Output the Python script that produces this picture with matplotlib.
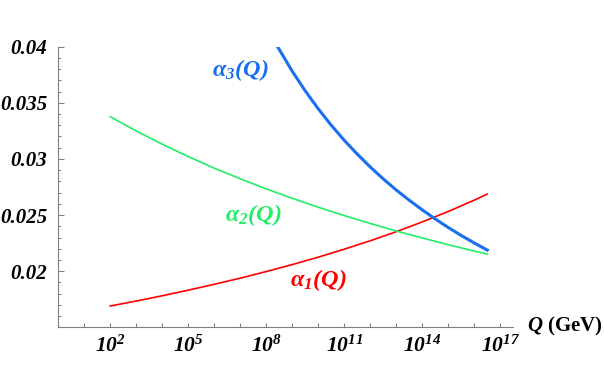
import matplotlib
matplotlib.use("Agg")
import matplotlib.pyplot as plt

# running couplings (Q in GeV)
Q_12 = [1e2, 1e3, 1e4, 1e5, 1e6, 1e7, 1e8, 1e9, 1e10, 1e11, 1e12,
        1e13, 1e14, 1e15, 1e16, 3.16e16]
alpha1 = [0.01690, 0.01734, 0.01781, 0.01831, 0.01883, 0.01938, 0.01997,
          0.02059, 0.02125, 0.02196, 0.02271, 0.02352, 0.02439, 0.02532,
          0.02633, 0.02687]
alpha2 = [0.03376, 0.03249, 0.03131, 0.03021, 0.02918, 0.02823, 0.02733,
          0.02649, 0.02570, 0.02495, 0.02425, 0.02358, 0.02296, 0.02236,
          0.02179, 0.02152]

Q_3 = [2.72e8, 1e9, 3.16e9, 1e10, 3.16e10, 1e11, 3.16e11, 1e12, 3.16e12,
       1e13, 3.16e13, 1e14, 3.16e14, 1e15, 3.16e15, 1e16, 3.16e16]
alpha3 = [0.04000, 0.03781, 0.03606, 0.03446, 0.03300, 0.03166, 0.03043,
          0.02928, 0.02822, 0.02723, 0.02632, 0.02546, 0.02465, 0.02389,
          0.02318, 0.02251, 0.02188]

x_major = [1e2, 1e5, 1e8, 1e11, 1e14, 1e17]
x_major_labels = ['$10^{2}$', '$10^{5}$', '$10^{8}$', '$10^{11}$',
                  '$10^{14}$', '$10^{17}$']
x_minor = [1e0, 1e1, 1e3, 1e4, 1e6, 1e7, 1e9, 1e10, 1e12, 1e13, 1e15, 1e16]
y_major = [0.02, 0.025, 0.03, 0.035, 0.04]
y_major_labels = ['0.02', '0.025', '0.03', '0.035', '0.04']
y_minor = [0.015, 0.016, 0.017, 0.018, 0.019, 0.021, 0.022, 0.023, 0.024,
           0.026, 0.027, 0.028, 0.029, 0.031, 0.032, 0.033, 0.034,
           0.036, 0.037, 0.038, 0.039]

plt.rcParams['mathtext.fontset'] = 'custom'
plt.rcParams['mathtext.rm'] = 'Liberation Serif:bold:italic'
plt.rcParams['mathtext.it'] = 'Liberation Serif:bold:italic'
plt.rcParams['mathtext.bf'] = 'Liberation Serif:bold:italic'

red = '#ff0000'
green = '#22ee66'
blue = '#1a6ef0'
grey = '#808080'

fig = plt.figure(figsize=(6.04, 3.73), dpi=100)
ax = fig.add_axes([0.0965, 0.1225, 0.7533, 0.7523])

ax.semilogx(Q_12, alpha1, color=red, lw=1.2)
ax.semilogx(Q_12, alpha2, color=green, lw=1.2)
ax.semilogx(Q_3, alpha3, color=blue, lw=2.2)

ax.set_xlim(1, 10**17.5)
ax.set_ylim(0.015, 0.04)

for s in ['top', 'right']:
    ax.spines[s].set_visible(False)
for s in ['left', 'bottom']:
    ax.spines[s].set_color(grey)
    ax.spines[s].set_linewidth(0.8)

ax.set_xticks(x_major)
ax.set_xticklabels(x_major_labels)
ax.set_xticks(x_minor, minor=True)
ax.set_xticklabels([], minor=True)
ax.set_yticks(y_major)
ax.set_yticklabels(y_major_labels)
ax.set_yticks(y_minor, minor=True)
ax.set_yticklabels([], minor=True)

ax.tick_params(axis='x', which='both', direction='in', length=3,
               color=grey, width=0.8, pad=5, labelsize=15.5)
ax.tick_params(axis='y', which='major', direction='in', length=4,
               color=grey, width=0.8, pad=8, labelsize=15)
ax.tick_params(axis='y', which='minor', direction='in', length=2.5,
               color=grey, width=0.8)
for lab in ax.get_yticklabels():
    lab.set_fontfamily('Liberation Serif')
    lab.set_fontweight('bold')
    lab.set_fontstyle('italic')

lab_font = dict(fontsize=17.5, ha='center', va='center')
ax.text(1e7, 0.0379, r'$\alpha_3(Q)$', color=blue, **lab_font)
ax.text(10**7.5, 0.0250, r'$\alpha_2(Q)$', color=green, **lab_font)
ax.text(1e10, 0.0192, r'$\alpha_1(Q)$', color=red, **lab_font)

fig.text(0.872, 0.1235, r'$Q$ (GeV)', fontsize=15, fontfamily='Liberation Serif',
         fontweight='bold', ha='left', va='center')

fig.savefig('out.png', dpi=100)
